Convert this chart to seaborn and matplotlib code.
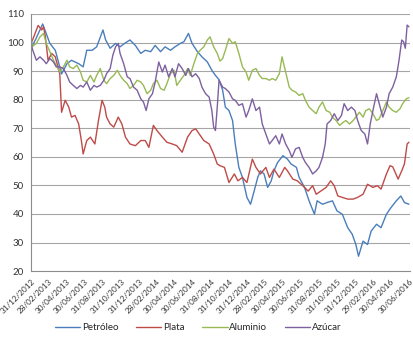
import numpy as np
import pandas as pd
import matplotlib
matplotlib.use("Agg")
import matplotlib.pyplot as plt
import seaborn as sns

# month offsets from 31/12/2012 and values
petroleo_m = [0, 0.5, 1.3, 2.1, 2.7, 3.0, 3.4, 4.0, 4.5, 5.3, 5.8, 6.2, 6.8, 7.3, 8.0, 8.3, 8.8, 9.4, 9.9, 10.4,
              11.0, 11.6, 12.2, 12.7, 13.3, 13.8, 14.4, 14.9, 15.5, 16.0, 16.6, 17.0, 17.5, 17.9, 18.5, 19.0, 19.6, 20.1, 20.5, 20.9,
              21.3, 21.6, 22.0, 22.4, 22.7, 23.1, 23.5, 24.0, 24.4, 24.8, 25.2, 25.5, 25.9, 26.3, 26.7, 27.0, 27.4, 28.0, 28.5, 28.9,
              29.5, 29.8, 30.4, 30.9, 31.5, 31.8, 32.4, 32.9, 33.5, 34.0, 34.6, 35.2, 35.7, 36.1, 36.4, 36.9, 37.4, 37.8, 38.4, 38.9,
              39.5, 40.0, 40.6, 41.1, 41.5, 42.0]
petroleo_v = [98, 101, 106.5, 99.7, 97.3, 93.8, 89, 92.6, 93.8, 92.6, 91.5, 97.3, 97.3, 98.5, 104.4, 100.9, 98, 99.7, 98.5, 99.7,
              100.9, 99, 96.2, 97.3, 96.8, 99, 96.8, 98.5, 97.3, 98.5, 99.7, 100.3, 103.2, 99.7, 96.8, 95, 93.2, 90.3, 88.5, 87,
              83.3, 77.4, 76.2, 72.7, 64.5, 56.3, 52.8, 45.8, 43.4, 48, 52.8, 55.1, 54, 49.3, 51.6, 55.1, 58, 60.4, 59.2, 57.5,
              56.3, 52.8, 49.3, 44.6, 39.9, 44.6, 43.4, 44, 44.6, 41.1, 39.9, 35.2, 32.9, 29.3, 25.2, 30.5, 29.3, 34, 36.4, 35.2,
              39.9, 42.2, 44.6, 46.3, 44, 43.4]

plata_m = [0, 0.8, 1.2, 1.4, 1.6, 1.9, 2.3, 2.7, 3.0, 3.2, 3.4, 3.8, 4.2, 4.5, 4.9, 5.3, 5.6, 5.8, 6.2, 6.6,
           7.1, 7.5, 7.9, 8.2, 8.4, 8.8, 9.2, 9.7, 10.1, 10.5, 11.0, 11.6, 12.2, 12.7, 13.1, 13.6, 14.0, 14.6, 15.1, 15.7,
           16.2, 16.8, 17.4, 17.9, 18.3, 18.7, 19.2, 19.8, 20.3, 20.7, 21.0, 21.5, 22.0, 22.6, 23.0, 23.5, 24.0, 24.6, 25.0, 25.5,
           26.1, 26.5, 27.0, 27.6, 28.2, 28.5, 29.1, 29.6, 30.2, 30.8, 31.3, 31.7, 32.2, 32.8, 33.3, 33.7, 34.1, 34.6, 35.2, 35.8,
           36.3, 36.9, 37.4, 38.0, 38.5, 38.9, 39.5, 39.9, 40.2, 40.8, 41.2, 41.5, 41.8, 42.0]
plata_v = [99.5, 106, 104.4, 105.5, 102, 93.8, 96.2, 95, 91.5, 89, 75.6, 79.8, 77.4, 73.9, 74.5, 71.5, 65.7, 61, 65.7, 66.9,
           64.5, 72.7, 79.8, 77.4, 73.9, 71.5, 70.4, 73.9, 71.5, 66.9, 64.5, 63.9, 65.7, 65.7, 63.3, 71, 69.2, 66.9, 65.1, 64.5,
           63.9, 61.6, 66.9, 69.2, 69.8, 68, 65.7, 64.5, 61, 57.5, 56.9, 56.3, 51, 54, 51.6, 52.8, 51, 59.2, 56.3, 54,
           56.3, 52.8, 55.7, 52.8, 56.3, 55.1, 52.2, 51.6, 49.9, 48, 49.9, 46.9, 48, 49.3, 51.6, 49.9, 46.3, 45.8, 45.2, 45.2,
           45.8, 46.9, 50.4, 49.3, 49.9, 48.7, 54, 56.9, 56.5, 52.2, 55.1, 57.5, 64.5, 65.1]

aluminio_m = [0, 0.1, 0.6, 1.0, 1.4, 1.7, 2.1, 2.5, 2.8, 3.2, 3.6, 4.0, 4.3, 4.7, 5.1, 5.5, 5.8, 6.2, 6.6, 7.0,
              7.3, 7.7, 8.1, 8.4, 8.8, 9.2, 9.6, 9.9, 10.3, 10.7, 11.0, 11.4, 11.8, 12.2, 12.5, 12.9, 13.3, 13.6, 14.0, 14.4,
              14.8, 15.1, 15.5, 15.9, 16.2, 16.6, 17.0, 17.4, 17.7, 18.1, 18.5, 18.8, 19.2, 19.6, 19.9, 20.3, 20.7, 21.0,
              21.3, 21.6, 22.0, 22.4, 22.7, 23.1, 23.5, 23.9, 24.2, 24.6, 25.0, 25.4, 25.7, 26.1, 26.5, 26.8, 27.2, 27.6, 27.9, 28.3,
              28.7, 29.0, 29.4, 29.8, 30.2, 30.5, 30.9, 31.3, 31.7, 32.0, 32.4, 32.8, 33.2, 33.5, 33.9, 34.3, 34.7, 35.0, 35.4, 35.8,
              36.1, 36.5, 36.9, 37.2, 37.6, 38.0, 38.4, 38.7, 39.1, 39.5, 39.8, 40.2, 40.6, 41.0, 41.3, 41.7, 42.0]
aluminio_v = [103.8, 98.5, 99.7, 102, 103.2, 99.7, 96.8, 93.8, 92.1, 89.7, 91.5, 93.8, 91.5, 90.9, 92.1, 89.7, 86.8, 86.2, 88.5, 86.2,
              88.5, 90.9, 86.8, 85.6, 87.4, 88.5, 90.3, 88.5, 86.8, 85.6, 83.9, 85, 86.8, 86.2, 85, 82.1, 83.3, 85.6, 86.8, 83.9,
              83.3, 85.6, 89.1, 90.3, 85, 86.8, 88.5, 90.9, 88.5, 92.6, 96.2, 97.3, 98.5, 100.9, 102, 98.5, 96.2, 93.5,
              94.4, 97.3, 101.4, 99.7, 100.3, 96.2, 91.5, 89.7, 86.8, 90.3, 90.9, 88.5, 87.4, 87.4, 86.8, 87.4, 86.8, 89.1, 95, 89.7,
              84.4, 83.3, 82.7, 81.5, 82.1, 79.8, 77.4, 76.2, 75.1, 77.4, 79.2, 76.2, 75.6, 73.9, 72.7, 71, 72.1, 72.7, 71.5, 72.7,
              73.9, 75.6, 73.9, 76.2, 76.8, 75.1, 72.7, 73.3, 76.2, 79.2, 77.4, 76.2, 75.6, 76.8, 78.6, 80.3, 80.7]

azucar_m = [0, 0.2, 0.6, 1.0, 1.4, 1.7, 2.1, 2.5, 2.8, 3.2, 3.6, 4.0, 4.3, 4.7, 5.1, 5.5, 5.8, 6.2, 6.6, 7.0,
            7.3, 7.7, 8.1, 8.4, 8.8, 9.1, 9.4, 9.7, 9.9, 10.3, 10.7, 11.0, 11.4, 11.8, 12.2, 12.5, 12.8, 13.1, 13.5, 13.8,
            14.2, 14.6, 14.9, 15.3, 15.7, 16.0, 16.4, 16.8, 17.2, 17.5, 17.9, 18.3, 18.7, 19.0, 19.4, 19.8, 20.1, 20.3, 20.5, 20.7,
            20.9, 21.3, 21.6, 22.0, 22.4, 22.7, 23.1, 23.5, 23.9, 24.2, 24.6, 25.0, 25.4, 25.7, 26.1, 26.5, 26.8, 27.2, 27.6, 27.9,
            28.3, 28.7, 29.0, 29.4, 29.8, 30.2, 30.5, 30.9, 31.3, 31.7, 32.0, 32.4, 32.7, 32.9, 33.3, 33.7, 34.1, 34.5, 34.8, 35.2,
            35.6, 36.0, 36.3, 36.7, 37.1, 37.4, 37.7, 38.0, 38.4, 38.7, 39.1, 39.5, 39.8, 40.2, 40.6, 40.9, 41.2, 41.4, 41.6, 41.8, 42.0]
azucar_v = [99.7, 97.3, 93.8, 95, 93.8, 92.6, 94.4, 93.2, 91.5, 91.5, 90.9, 88.5, 86.2, 85, 83.9, 85, 84.4, 86.2, 83.3, 85,
            84.4, 85, 86.8, 89.1, 90.9, 95.6, 98.5, 99.7, 96.2, 92.6, 88, 87.4, 84.4, 83.3, 80.3, 79.2, 76.2, 80.3, 82.1, 86.2,
            93.2, 89.7, 92.1, 88, 90.9, 88, 92.6, 90.9, 88.5, 90.9, 88, 89.1, 87.4, 84.4, 82.1, 80.9, 76.2, 70.4, 69.2, 77.4,
            86.8, 84.4, 83.9, 82.7, 80.3, 79.8, 78, 78.6, 73.9, 76.2, 80.3, 76.2, 77.4, 71.5, 68, 64.5, 65.7, 67.4, 64.5, 68,
            64.5, 62.2, 59.8, 62.8, 63.3, 59.8, 58, 56.3, 54, 55.1, 56.3, 59.8, 64.5, 71.5, 72.7, 75.1, 72.7, 74.5, 78.6, 76.2,
            77.4, 76.2, 72.7, 69.2, 68, 64.5, 71.5, 76.2, 82.1, 78.6, 73.9, 77.4, 82.1, 84.4, 88, 93.8, 100.9, 100.3, 98, 106.1, 105.5]

series_names = ["Petróleo", "Plata", "Aluminio", "Azúcar"]
series_colors = ["#4A7EBB", "#BE4B48", "#98B954", "#7D60A0"]
tick_labels = ["31/12/2012", "28/02/2013", "30/04/2013", "30/06/2013", "31/08/2013", "31/10/2013",
               "31/12/2013", "28/02/2014", "30/04/2014", "30/06/2014", "31/08/2014", "31/10/2014",
               "31/12/2014", "28/02/2015", "30/04/2015", "30/06/2015", "31/08/2015", "31/10/2015",
               "31/12/2015", "29/02/2016", "30/04/2016", "30/06/2016"]
y_ticks = [20, 30, 40, 50, 60, 70, 80, 90, 100, 110]

start = pd.Timestamp("2012-12-31")
frames = []
for name, ms, vs in zip(series_names,
                        [petroleo_m, plata_m, aluminio_m, azucar_m],
                        [petroleo_v, plata_v, aluminio_v, azucar_v]):
    dates = [start + pd.Timedelta(days=m * 30.405) for m in ms]
    frames.append(pd.DataFrame({"fecha": dates, "valor": vs, "serie": name}))
df = pd.concat(frames, ignore_index=True)

sns.set_style("white")
plt.rcParams["font.family"] = ["Lato", "DejaVu Sans"]

fig = plt.figure(figsize=(4.13, 3.41), dpi=100)
ax = fig.add_axes([0.075, 0.205, 0.918, 0.754])

for y in y_ticks[1:]:
    ax.axhline(y, color="#A6A6A6", lw=0.8, zorder=0)

sns.lineplot(data=df, x="fecha", y="valor", hue="serie", hue_order=series_names,
             palette=series_colors, linewidth=1.0, ax=ax, legend=True, sort=True)

tick_dates = pd.to_datetime(tick_labels, format="%d/%m/%Y")
ax.set_xticks(tick_dates)
ax.set_xticklabels(tick_labels, rotation=45, ha="right", rotation_mode="anchor", fontsize=5.9, color="#333333")
ax.set_xlim(tick_dates[0], tick_dates[-1] + pd.Timedelta(days=4))
ax.set_ylim(20, 110)
ax.set_yticks(y_ticks)
ax.set_yticklabels([str(v) for v in y_ticks], fontsize=7, color="#333333")
ax.set_xlabel("")
ax.set_ylabel("")

for s in ["top", "right"]:
    ax.spines[s].set_visible(False)
for s in ["left", "bottom"]:
    ax.spines[s].set_color("#8C8C8C")
    ax.spines[s].set_linewidth(0.8)
ax.tick_params(axis="both", which="major", direction="out", length=3, width=0.7, color="#8C8C8C", pad=2)

handles, labels = ax.get_legend_handles_labels()
ax.legend(handles, labels, loc="lower center", bbox_to_anchor=(0.48, 0.0),
          bbox_transform=fig.transFigure, ncol=4, frameon=False, fontsize=7,
          handlelength=2.6, handletextpad=0.2, columnspacing=1.8)

fig.savefig("out.png", dpi=100)
